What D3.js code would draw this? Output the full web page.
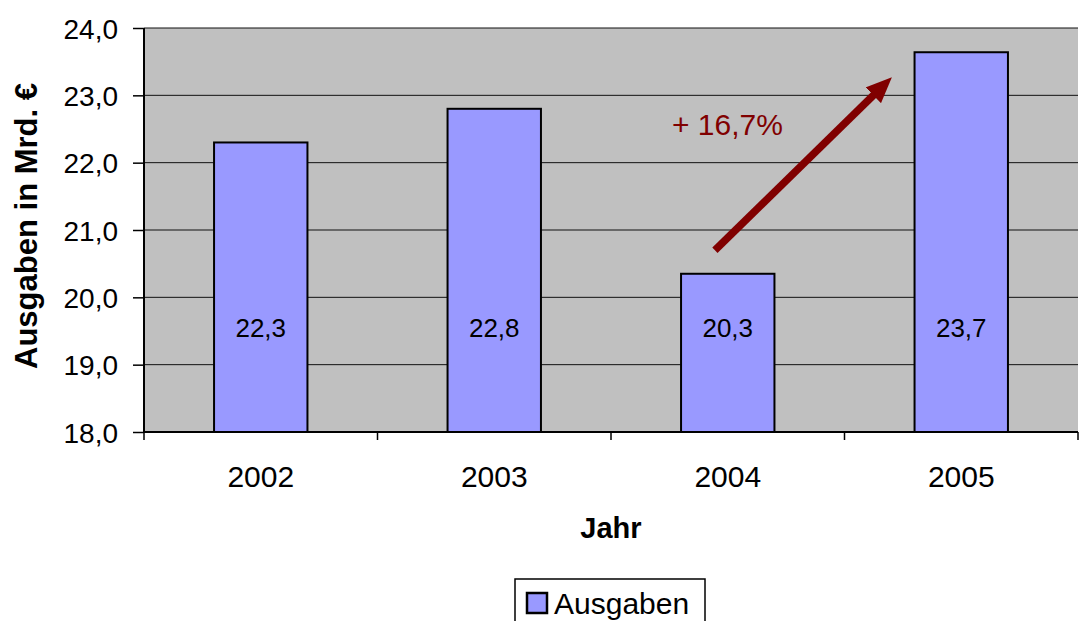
<!DOCTYPE html>
<html>
<head>
<meta charset="utf-8">
<script src="https://cdn.jsdelivr.net/npm/d3@7"></script>
<style>
  body { margin: 0; background: #fff; }
  svg { display: block; font-family: "Liberation Sans", Arial, sans-serif; }
</style>
</head>
<body>
<svg id="chart" width="1081" height="621"></svg>
<script>
const years = ['2002', '2003', '2004', '2005'];
const ausgaben = [22.3, 22.8, 20.35, 23.64];
const valueLabels = ['22,3', '22,8', '20,3', '23,7'];
const yTicks = [18, 19, 20, 21, 22, 23, 24];
const growthLabel = '+ 16,7%';

const svg = d3.select('#chart');
const margin = { left: 144, right: 3, top: 28, bottom: 189 };
const width = 1081 - margin.left - margin.right;
const height = 621 - margin.top - margin.bottom;

const x = d3.scaleBand().domain(years).range([0, width]).paddingInner(0.6).paddingOuter(0.3);
const xCat = d3.scaleBand().domain(years).range([0, width]);
const y = d3.scaleLinear().domain([18, 24]).range([height, 0]);

const g = svg.append('g').attr('transform', `translate(${margin.left},${margin.top})`);

g.append('rect')
  .attr('width', width)
  .attr('height', height)
  .attr('fill', '#c0c0c0');

// gridlines
g.selectAll('line.grid')
  .data(yTicks.slice(1))
  .enter()
  .append('line')
  .attr('class', 'grid')
  .attr('x1', 0)
  .attr('x2', width)
  .attr('y1', (d) => y(d))
  .attr('y2', (d) => y(d))
  .attr('stroke', '#111')
  .attr('stroke-width', 1);

// bars
g.selectAll('rect.bar')
  .data(ausgaben)
  .enter()
  .append('rect')
  .attr('class', 'bar')
  .attr('x', (d, i) => x(years[i]))
  .attr('y', (d) => y(d))
  .attr('width', x.bandwidth())
  .attr('height', (d) => height - y(d))
  .attr('fill', '#9999ff')
  .attr('stroke', '#000')
  .attr('stroke-width', 2);

g.selectAll('text.val')
  .data(valueLabels)
  .enter()
  .append('text')
  .attr('class', 'val')
  .attr('x', (d, i) => x(years[i]) + x.bandwidth() / 2)
  .attr('y', 309)
  .attr('text-anchor', 'middle')
  .attr('font-size', 26)
  .attr('fill', '#000')
  .text((d) => d);

// y axis
const yAxis = d3.axisLeft(y)
  .tickValues(yTicks)
  .tickSize(11)
  .tickPadding(15)
  .tickFormat((d) => d3.format('.1f')(d).replace('.', ','));
const yg = g.append('g').call(yAxis);
yg.select('.domain').attr('stroke', '#000').attr('stroke-width', 2).attr('d', `M0,0V${height}`);
yg.selectAll('.tick line').attr('stroke', '#000').attr('stroke-width', 1.5);
yg.selectAll('.tick text')
  .attr('font-size', 28)
  .attr('fill', '#000')
  .attr('dy', '0.36em')
  .attr('font-family', '"Liberation Sans", Arial, sans-serif');

// x axis
const xg = g.append('g').attr('transform', `translate(0,${height})`);
xg.append('line')
  .attr('x1', 0).attr('x2', width)
  .attr('stroke', '#000').attr('stroke-width', 2);
xg.selectAll('line.tick')
  .data(years.concat(['end']))
  .enter()
  .append('line')
  .attr('class', 'tick')
  .attr('x1', (d, i) => (i < years.length ? xCat(d) : width))
  .attr('x2', (d, i) => (i < years.length ? xCat(d) : width))
  .attr('y1', 0)
  .attr('y2', 8)
  .attr('stroke', '#000')
  .attr('stroke-width', 1.5);
xg.selectAll('text')
  .data(years)
  .enter()
  .append('text')
  .attr('x', (d) => xCat(d) + xCat.bandwidth() / 2)
  .attr('y', 55)
  .attr('text-anchor', 'middle')
  .attr('font-size', 30)
  .text((d) => d);

// axis titles
svg.append('text')
  .attr('transform', `translate(37,${margin.top + 198}) rotate(-90)`)
  .attr('text-anchor', 'middle')
  .attr('font-size', 31)
  .attr('font-weight', 'bold')
  .text('Ausgaben in Mrd. €');

svg.append('text')
  .attr('x', 611)
  .attr('y', 538)
  .attr('text-anchor', 'middle')
  .attr('font-size', 29)
  .attr('font-weight', 'bold')
  .text('Jahr');

// growth arrow
const headLen = 26;
const headBack = 18;
const defs = svg.append('defs');
defs.append('marker')
  .attr('id', 'arrowhead')
  .attr('viewBox', '0 -5 10 10')
  .attr('markerUnits', 'userSpaceOnUse')
  .attr('preserveAspectRatio', 'none')
  .attr('refX', (10 * (headLen - headBack)) / headLen)
  .attr('refY', 0)
  .attr('markerWidth', headLen)
  .attr('markerHeight', 22)
  .attr('orient', 'auto')
  .append('path')
  .attr('d', 'M0,-5L10,0L0,5Z')
  .attr('fill', '#800000');

const x0 = xCat('2004') + xCat.bandwidth() * 0.445;
const y0 = y(20.7);
const x1 = xCat('2005') + xCat.bandwidth() * 0.203;
const y1 = y(23.27);
const len = Math.hypot(x1 - x0, y1 - y0);
g.append('line')
  .attr('x1', x0)
  .attr('y1', y0)
  .attr('x2', x1 - ((x1 - x0) / len) * headBack)
  .attr('y2', y1 - ((y1 - y0) / len) * headBack)
  .attr('stroke', '#800000')
  .attr('stroke-width', 7.5)
  .attr('marker-end', 'url(#arrowhead)');

g.append('text')
  .attr('x', xCat('2004') + 61)
  .attr('y', 107)
  .attr('font-size', 30)
  .attr('fill', '#800000')
  .text(growthLabel);

// legend
const legend = svg.append('g').attr('transform', 'translate(515,579)');
legend.append('rect')
  .attr('width', 190)
  .attr('height', 50)
  .attr('fill', '#fff')
  .attr('stroke', '#000')
  .attr('stroke-width', 1.5);
legend.append('rect')
  .attr('x', 12)
  .attr('y', 14)
  .attr('width', 20)
  .attr('height', 20)
  .attr('fill', '#9999ff')
  .attr('stroke', '#000')
  .attr('stroke-width', 2.5);
legend.append('text')
  .attr('x', 39)
  .attr('y', 35)
  .attr('font-size', 30)
  .text('Ausgaben');
</script>
</body>
</html>
